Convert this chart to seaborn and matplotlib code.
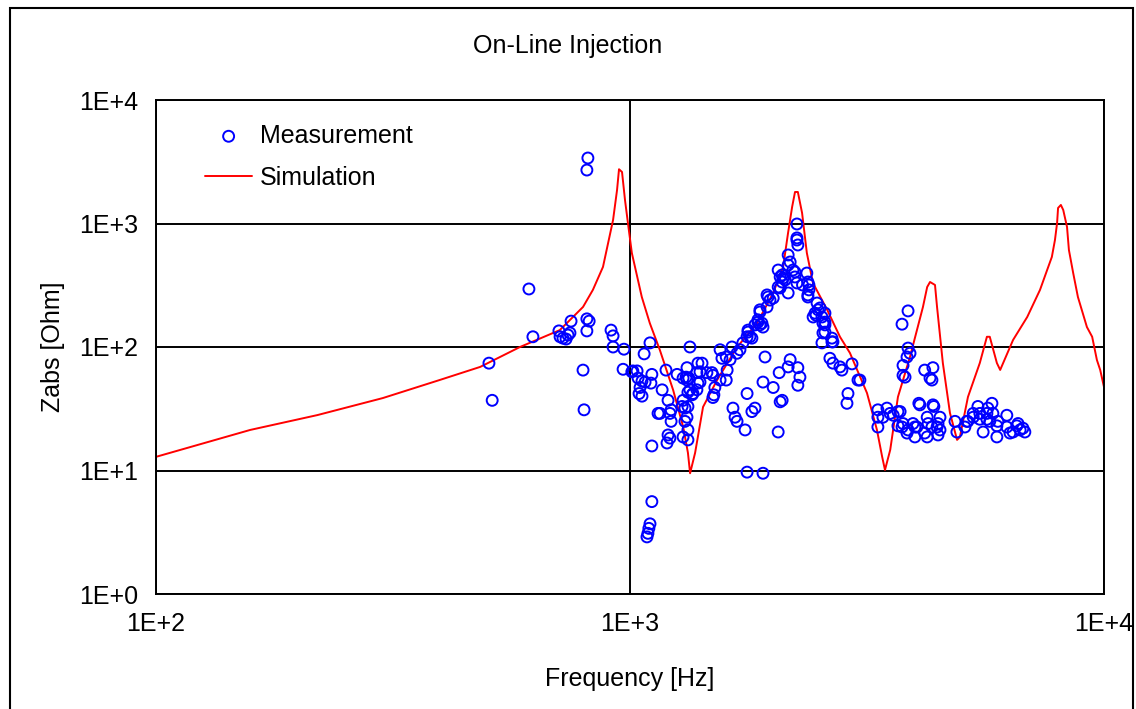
import numpy as np
import pandas as pd
import matplotlib
matplotlib.use("Agg")
import matplotlib.pyplot as plt
from matplotlib.patches import Rectangle
import seaborn as sns

# simulated impedance curve (Hz, Ohm)
sim_freq = [100, 158, 219, 301, 397, 483, 586, 711, 796, 835, 877, 921, 939, 948, 962,
            976, 990, 1009, 1059, 1101, 1156, 1233, 1295, 1325, 1339, 1372, 1426, 1527,
            1683, 1854, 2005, 2104, 2155, 2198, 2229, 2260, 2307, 2361, 2432, 2606, 2773,
            2911, 3162, 3319, 3404, 3451, 3540, 3675, 3896, 4150, 4236, 4295, 4400, 4444,
            4571, 4732, 4898, 4966, 5164, 5470, 5662, 5741, 5943, 6039, 6429, 6887, 7328,
            7586, 7762, 7880, 7962, 8000, 8110, 8204, 8356, 8433, 8610, 8810, 9204, 9441,
            9661, 9817, 10000]
sim_z = [12.9, 21.3, 28.1, 38.6, 54.1, 69, 100, 137, 211, 290, 445, 1067, 1866, 2750, 2612,
         1549, 1009, 577, 254, 156, 94.6, 44.9, 22.5, 13.9, 9.5, 13.9, 32.7, 54.1,
         100, 156, 274, 445, 838, 1361, 1799, 1800, 1216, 577, 330, 200, 121,
         89.4, 42.4, 21.3, 12.9, 10.1, 14.7, 39.4, 83, 211, 306, 336, 318, 211,
         74.2, 29.2, 17.7, 18.7, 39.4, 74.2, 121, 121, 74.2, 65.2, 114, 175, 290,
         420, 536, 735, 1009, 1336, 1413, 1286, 937, 610, 397, 254, 145, 121,
         78.5, 65.2, 47.4]

# measured impedance points (Hz, Ohm)
meas_freq = [504, 512, 612, 624, 708, 712, 722, 733, 740, 747, 751, 811, 820, 811, 796, 800,
             815, 811, 912, 921, 921, 971, 967, 1014, 1035, 1009, 1102, 1071, 1112, 1040,
             1060, 1076, 1107, 1050, 1045, 1060, 1146, 1112, 1112, 1102, 1096, 1091, 1086,
             1191, 1169, 1203, 1221, 1157, 1214, 1221, 1203, 1214, 1197, 1257, 1319, 1338,
             1313, 1294, 1331, 1391, 1419, 1405, 1453, 1496, 1510, 1496, 1405, 1384, 1358,
             1325, 1294, 1288, 1306, 1325, 1319, 1306, 1325, 1294, 1325, 1319, 1338, 1384,
             1391, 1352, 1489, 1549, 1563, 1596, 1503, 1549, 1596, 1603, 1626, 1641, 1682,
             1706, 1730, 1766, 1774, 1808, 1835, 1862, 1898, 1880, 1946, 1974, 2005, 1946,
             2054, 2074, 2094, 2104, 2074, 2156, 2177, 2156, 2207, 2228, 2250, 2260, 2250,
             2250, 2361, 2373, 2373, 2481, 2493, 2434, 2541, 2578, 2553, 2667, 2541, 2641,
             2680, 2773, 2940, 3027, 2883, 2869, 1927, 1908, 2005, 2064, 2177, 2156, 2260,
             2283, 2260, 2094, 2074, 2054, 1835, 1808, 1649, 1666, 1682, 1749, 1766, 1766,
             1908, 2250, 2156, 2094, 2125, 2228, 2312, 2385, 2054, 1955, 1880, 1862, 1880,
             1908, 1774, 1791, 2517, 2469, 2578, 2578, 2578, 2667, 2385, 2373, 2457, 2553,
             2680, 2799, 3055,
             3860, 3749, 3860, 3897, 3841, 3767, 3767, 3804, 4185, 4356, 4295, 4335, 4088,
             4356, 3334, 3484, 3538, 3417, 3334, 3592, 3714, 3675, 3749, 3841, 3767, 3953,
             3991, 4236, 4256, 4335, 4236, 4465, 4465, 4508, 4849, 4894, 4029, 4185, 4068,
             4376, 3334, 3675, 3860, 3991, 4444, 5088, 5159, 5297, 5420, 5559, 5689, 5802,
             5829, 5943, 5943, 6237, 6237, 6333, 6546, 6653, 6745, 6808, 6429, 5470, 5662,
             4508, 5135, 5297, 5470, 5662, 5970, 6586, 5741]
meas_z = [74, 37, 295, 121, 135, 121, 118, 116, 125, 130, 162, 169, 162, 135, 65, 31,
          3390, 2710, 137, 123, 100, 96, 66, 64, 64, 63, 108, 88, 60, 56,
          53, 52, 51, 47, 42, 40, 29, 15.8, 5.6, 3.7, 3.4, 3.1, 2.9,
          65, 45, 37, 31, 29, 29, 25, 19.4, 18.3, 16.7, 60, 68, 100,
          57, 56, 56, 74, 74, 63, 62, 59, 47, 39, 52, 45, 42,
          43, 37, 33, 32, 33, 27, 25, 21.3, 18.7, 17.7, 54, 45, 62,
          51, 41, 62, 95, 81, 83, 41, 54, 54, 65, 79, 100, 89,
          95, 108, 121, 137, 118, 151, 159, 156, 192, 211, 240, 249, 264,
          420, 369, 336, 362, 301, 556, 488, 274, 420, 369, 735, 670, 991,
          330, 397, 336, 264, 227, 200, 175, 175, 159, 130, 110, 108, 81,
          74, 69, 73, 54, 42, 35, 83, 52, 47, 62, 79, 69, 68,
          57, 49, 37, 36, 20.5, 32, 30, 32, 27, 25, 21.3, 42, 9.7,
          9.5, 764, 461, 383, 349, 405, 318, 290, 306, 254, 200, 166, 151,
          145, 132, 121, 207, 181, 188, 151, 132, 118, 318, 254, 188, 156,
          110, 65, 54,
          196, 153, 98, 89, 83, 71, 59, 57, 65, 68, 56, 54, 34,
          34, 31, 32, 29, 27, 22.5, 28, 30, 23, 22.5, 20.1, 24, 24,
          18.7, 27, 24, 22.5, 18.7, 24, 19.4, 27, 25, 20.5, 22.5, 20.1, 35,
          33, 27, 30, 21.3, 22.5, 22.5, 22.5, 25, 27, 33, 20.5, 32, 35,
          29, 23, 18.7, 28, 22.5, 20.1, 23, 21.3, 22, 20.5, 20.5, 26, 26,
          21.3, 25, 29, 29, 29, 25, 24, 25]

ticks_x = [1e2, 1e3, 1e4]
ticks_x_labels = ["1E+2", "1E+3", "1E+4"]
ticks_y = [1e0, 1e1, 1e2, 1e3, 1e4]
ticks_y_labels = ["1E+0", "1E+1", "1E+2", "1E+3", "1E+4"]

sim = pd.DataFrame({"f": sim_freq, "z": sim_z})
meas = pd.DataFrame({"f": meas_freq, "z": meas_z})

sns.set_theme(style="white")
plt.rcParams["font.family"] = ["Liberation Sans", "DejaVu Sans"]
plt.rcParams.update({"text.color": "black", "axes.labelcolor": "black",
                     "xtick.color": "black", "ytick.color": "black"})

fs = 18
fig = plt.figure(figsize=(11.36, 7.09), dpi=100)
ax = fig.add_axes([156 / 1136, 1 - 594 / 709, 948 / 1136, 494 / 709])

sns.scatterplot(data=meas, x="f", y="z", ax=ax, marker="o", s=62,
                facecolors="none", edgecolor="#0000ff", linewidth=1.4,
                label="Measurement", zorder=3)
sns.lineplot(data=sim, x="f", y="z", ax=ax, color="#ff0000", linewidth=1.4,
             estimator=None, sort=False, label="Simulation", zorder=2)

ax.set_xscale("log")
ax.set_yscale("log")
ax.set_xlim(100, 10000)
ax.set_ylim(1, 10000)
ax.set_xticks(ticks_x, ticks_x_labels)
ax.set_yticks(ticks_y, ticks_y_labels)
ax.minorticks_off()
ax.tick_params(axis="both", which="major", direction="out", length=6, width=1.3,
               color="black", labelsize=fs, pad=7)
ax.grid(True, which="major", color="black", linewidth=1.4)
for s in ax.spines.values():
    s.set_color("black")
    s.set_linewidth(1.4)

ax.set_xlabel("Frequency [Hz]", fontsize=fs, labelpad=22)
ax.set_ylabel("Zabs [Ohm]", fontsize=fs, labelpad=10)
fig.text(0.5, 1 - 46 / 709, "On-Line Injection", ha="center", va="center", fontsize=fs)

ax.legend(loc="upper left", bbox_to_anchor=(0.041, 0.972), frameon=False, fontsize=fs,
          handlelength=1.9, handletextpad=0.3, labelspacing=0.72, borderaxespad=0)

fig.patches.append(Rectangle((10 / 1136, -0.02), 1123 / 1136, 1.02 - 8 / 709,
                             transform=fig.transFigure, fill=False,
                             edgecolor="black", linewidth=1.5))

fig.savefig("out.png", dpi=100, facecolor="white")
